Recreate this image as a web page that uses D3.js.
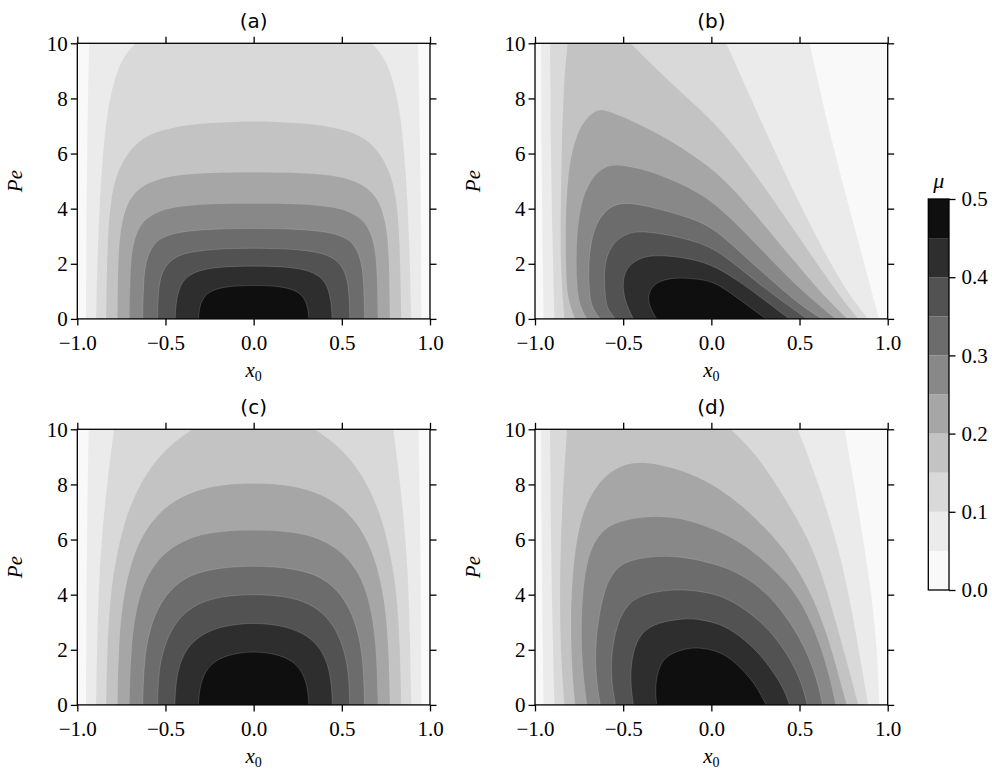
<!DOCTYPE html>
<html><head><meta charset="utf-8">
<script src="https://cdn.jsdelivr.net/npm/d3@7"></script>
<style>
body{margin:0;background:#fff}
.serif{font-family:"Liberation Serif","DejaVu Serif","Noto Serif","Times New Roman",serif}
.sans{font-family:"DejaVu Sans","Liberation Sans",sans-serif}
</style>
</head><body>
<svg id="fig" width="992" height="771"></svg>
<script>
// ---------- data ----------
const levels = [0, 0.05, 0.1, 0.15, 0.2, 0.25, 0.3, 0.35, 0.4, 0.45, 0.5];
const bandColors = ['#f9f9f9','#ebebeb','#d9d9d9','#c3c3c3','#a6a6a6','#888888','#6c6c6c','#525252','#2e2e2e','#0f0f0f'];
const xTicks = [-1, -0.5, 0, 0.5, 1];
const yTicks = [0, 2, 4, 6, 8, 10];
const cbTicks = [0, 0.1, 0.2, 0.3, 0.4, 0.5];
const panelTitles = ['(a)', '(b)', '(c)', '(d)'];

// contour boundaries [x0, Pe] for levels 0.05 ... 0.45 (each: list of branches)
const contourA = [
  [[[-0.951,0],[-0.949,3],[-0.944,6],[-0.938,8.5],[-0.932,10]], [[0.932,10],[0.938,8.5],[0.944,6],[0.949,3],[0.951,0]]],
  [[[-0.894,0],[-0.883,2.9],[-0.864,5.3],[-0.839,7.1],[-0.807,8.3],[-0.763,9.2],[-0.716,9.7],[-0.669,10]],
   [[0.669,10],[0.716,9.7],[0.763,9.2],[0.807,8.3],[0.839,7.1],[0.864,5.3],[0.883,2.9],[0.894,0]]],
  [[[-0.837,0],[-0.830,2.86],[-0.811,4.31],[-0.782,5.16],[-0.735,5.82],[-0.669,6.37],[-0.583,6.73],[-0.451,6.97],[-0.261,7.12],[0,7.18],
    [0.261,7.12],[0.451,6.97],[0.583,6.73],[0.669,6.37],[0.735,5.82],[0.782,5.16],[0.811,4.31],[0.830,2.86],[0.837,0]]],
  [[[-0.773,0],[-0.769,2.25],[-0.754,3.34],[-0.725,4.07],[-0.678,4.58],[-0.602,4.94],[-0.489,5.18],[-0.297,5.30],[0,5.33],
    [0.297,5.30],[0.489,5.18],[0.602,4.94],[0.678,4.58],[0.725,4.07],[0.754,3.34],[0.769,2.25],[0.773,0]]],
  [[[-0.705,0],[-0.701,1.65],[-0.688,2.62],[-0.659,3.22],[-0.612,3.64],[-0.527,3.95],[-0.413,4.10],[-0.222,4.18],[0,4.19],
    [0.222,4.18],[0.413,4.10],[0.527,3.95],[0.612,3.64],[0.659,3.22],[0.688,2.62],[0.701,1.65],[0.705,0]]],
  [[[-0.629,0],[-0.625,1.40],[-0.610,2.13],[-0.574,2.68],[-0.517,2.98],[-0.413,3.17],[-0.222,3.27],[0,3.28],
    [0.222,3.27],[0.413,3.17],[0.517,2.98],[0.574,2.68],[0.610,2.13],[0.625,1.40],[0.629,0]]],
  [[[-0.545,0],[-0.542,0.92],[-0.527,1.59],[-0.489,2.03],[-0.422,2.34],[-0.299,2.49],[-0.15,2.55],[0,2.57],
    [0.15,2.55],[0.299,2.49],[0.422,2.34],[0.489,2.03],[0.527,1.59],[0.542,0.92],[0.545,0]]],
  [[[-0.445,0],[-0.441,0.56],[-0.422,1.16],[-0.379,1.55],[-0.299,1.79],[-0.167,1.90],[0,1.92],
    [0.167,1.90],[0.299,1.79],[0.379,1.55],[0.422,1.16],[0.441,0.56],[0.445,0]]],
  [[[-0.313,0],[-0.307,0.44],[-0.284,0.80],[-0.239,1.04],[-0.148,1.19],[0,1.22],
    [0.148,1.19],[0.239,1.04],[0.284,0.80],[0.307,0.44],[0.313,0]]]
];

const contourB = [
  [[[-0.951,0],[-0.958,3],[-0.963,6],[-0.966,10]], [[0.557,10],[0.679,6.49],[0.811,3.34],[0.951,0]]],
  [[[-0.890,0],[-0.902,3],[-0.910,6],[-0.915,10]], [[0.085,10],[0.245,7.70],[0.434,5.04],[0.623,2.62],[0.774,0.92],[0.890,0]]],
  [[[-0.834,0],[-0.852,1.5],[-0.857,2.86],[-0.849,6.49],[-0.834,8.91],[-0.815,10]],
   [[-0.457,10],[-0.23,8.55],[-0.004,7.28],[0.151,6.13],[0.34,4.43],[0.528,2.68],[0.717,0.92],[0.834,0]]],
  [[[-0.773,0],[-0.815,0.7],[-0.825,1.65],[-0.828,3.46],[-0.815,5.28],[-0.777,6.49],[-0.721,7.22],[-0.655,7.58],[-0.610,7.61],
    [-0.457,7.22],[-0.23,6.49],[-0.004,5.52],[0.151,4.55],[0.34,3.10],[0.528,1.65],[0.679,0.56],[0.773,0]]],
  [[[-0.705,0],[-0.748,0.5],[-0.762,1.16],[-0.768,2.25],[-0.758,3.46],[-0.730,4.43],[-0.674,5.16],[-0.608,5.52],[-0.532,5.62],
    [-0.362,5.40],[-0.174,4.92],[-0.004,4.33],[0.151,3.40],[0.34,2.13],[0.528,0.92],[0.705,0]]],
  [[[-0.630,0],[-0.678,0.4],[-0.692,0.92],[-0.698,1.89],[-0.683,2.86],[-0.645,3.58],[-0.579,4.07],[-0.494,4.25],
    [-0.343,4.07],[-0.174,3.77],[-0.004,3.40],[0.151,2.49],[0.34,1.40],[0.528,0.38],[0.630,0]]],
  [[[-0.544,0],[-0.588,0.35],[-0.600,0.68],[-0.611,1.65],[-0.592,2.37],[-0.541,2.86],[-0.475,3.10],[-0.40,3.20],
    [-0.23,3.04],[-0.004,2.68],[0.151,1.89],[0.34,0.92],[0.544,0]]],
  [[[-0.442,0],[-0.485,0.56],[-0.504,1.16],[-0.494,1.65],[-0.457,2.01],[-0.39,2.25],[-0.306,2.31],
    [-0.174,2.25],[-0.004,2.01],[0.151,1.40],[0.302,0.68],[0.442,0]]],
  [[[-0.310,0],[-0.350,0.44],[-0.360,0.80],[-0.340,1.16],[-0.287,1.40],[-0.2,1.50],[-0.1,1.46],[-0.004,1.38],
    [0.075,1.10],[0.189,0.56],[0.310,0]]]
];

const contourC = [
  [[[-0.951,0],[-0.949,3],[-0.945,6],[-0.940,8.5],[-0.935,10]], [[0.935,10],[0.940,8.5],[0.945,6],[0.949,3],[0.951,0]]],
  [[[-0.894,0],[-0.886,2.87],[-0.873,5.05],[-0.852,6.74],[-0.826,8.31],[-0.792,10]],
   [[0.792,10],[0.826,8.31],[0.852,6.74],[0.873,5.05],[0.886,2.87],[0.894,0]]],
  [[[-0.837,0],[-0.830,2.27],[-0.811,4.08],[-0.782,5.29],[-0.735,6.62],[-0.669,7.71],[-0.583,8.67],[-0.470,9.46],[-0.347,10]],
   [[0.347,10],[0.470,9.46],[0.583,8.67],[0.669,7.71],[0.735,6.62],[0.782,5.29],[0.811,4.08],[0.830,2.27],[0.837,0]]],
  [[[-0.773,0],[-0.765,2.27],[-0.744,3.72],[-0.706,4.93],[-0.650,5.95],[-0.564,6.80],[-0.451,7.44],[-0.299,7.85],[-0.148,8.01],[0,8.04],
    [0.148,8.01],[0.299,7.85],[0.451,7.44],[0.564,6.80],[0.650,5.95],[0.706,4.93],[0.744,3.72],[0.765,2.27],[0.773,0]]],
  [[[-0.705,0],[-0.697,1.91],[-0.674,3.24],[-0.631,4.32],[-0.564,5.11],[-0.470,5.71],[-0.337,6.14],[-0.186,6.30],[0,6.35],
    [0.186,6.30],[0.337,6.14],[0.470,5.71],[0.564,5.11],[0.631,4.32],[0.674,3.24],[0.697,1.91],[0.705,0]]],
  [[[-0.629,0],[-0.623,1.43],[-0.602,2.39],[-0.564,3.24],[-0.498,4.02],[-0.394,4.63],[-0.242,4.95],[0,5.07],
    [0.242,4.95],[0.394,4.63],[0.498,4.02],[0.564,3.24],[0.602,2.39],[0.623,1.43],[0.629,0]]],
  [[[-0.545,0],[-0.540,1.06],[-0.521,1.79],[-0.485,2.51],[-0.422,3.18],[-0.318,3.70],[-0.176,3.95],[0,4.02],
    [0.176,3.95],[0.318,3.70],[0.422,3.18],[0.485,2.51],[0.521,1.79],[0.540,1.06],[0.545,0]]],
  [[[-0.447,0],[-0.441,0.82],[-0.420,1.49],[-0.379,2.05],[-0.309,2.51],[-0.186,2.86],[0,3.00],
    [0.186,2.86],[0.309,2.51],[0.379,2.05],[0.420,1.49],[0.441,0.82],[0.447,0]]],
  [[[-0.313,0],[-0.307,0.58],[-0.284,1.09],[-0.239,1.51],[-0.157,1.81],[0,1.97],
    [0.157,1.81],[0.239,1.51],[0.284,1.09],[0.307,0.58],[0.313,0]]]
];

const contourD = [
  [[[-0.951,0],[-0.958,3],[-0.963,6],[-0.966,10]],
   [[0.755,10],[0.81,8],[0.861,5.98],[0.899,4.41],[0.928,2.84],[0.945,1.39],[0.951,0]]],
  [[[-0.890,0],[-0.902,3],[-0.910,6],[-0.915,10]],
   [[0.49,10],[0.60,8.2],[0.709,5.98],[0.766,4.41],[0.814,2.84],[0.852,1.39],[0.890,0]]],
  [[[-0.834,0],[-0.852,1.5],[-0.862,4],[-0.850,7],[-0.819,10]],
   [[0.11,10],[0.25,9.15],[0.40,7.7],[0.557,5.98],[0.633,4.65],[0.709,2.96],[0.776,1.39],[0.834,0]]],
  [[[-0.773,0],[-0.795,1.5],[-0.800,4.08],[-0.758,6.5],[-0.683,7.7],[-0.570,8.55],[-0.419,8.89],[-0.211,8.61],[-0.038,8.19],
    [0.151,7.40],[0.376,5.98],[0.481,5.01],[0.576,3.93],[0.662,2.48],[0.719,1.15],[0.768,0]]],
  [[[-0.705,0],[-0.735,1.5],[-0.740,3.36],[-0.711,5.29],[-0.636,6.26],[-0.532,6.68],[-0.325,6.88],[-0.15,6.75],[-0.038,6.50],
    [0.08,6.20],[0.20,5.75],[0.30,5.22],[0.40,4.62],[0.50,3.86],[0.595,2.60],[0.662,1.27],[0.705,0]]],
  [[[-0.630,0],[-0.655,1.0],[-0.660,2.27],[-0.617,4.08],[-0.551,4.93],[-0.457,5.29],[-0.268,5.43],[-0.12,5.33],
    [0.044,5.07],[0.158,4.77],[0.272,4.29],[0.386,3.56],[0.50,2.48],[0.576,1.39],[0.614,0.54],[0.630,0]]],
  [[[-0.544,0],[-0.565,0.8],[-0.570,1.67],[-0.541,2.87],[-0.475,3.72],[-0.362,4.08],[-0.192,4.20],[-0.07,4.13],
    [0.044,3.99],[0.158,3.62],[0.272,3.08],[0.386,2.29],[0.471,1.39],[0.519,0.66],[0.544,0]]],
  [[[-0.442,0],[-0.462,0.94],[-0.447,1.91],[-0.400,2.63],[-0.306,3.0],[-0.136,3.15],[-0.07,3.10],
    [0.044,2.96],[0.158,2.54],[0.272,1.87],[0.357,1.15],[0.414,0.54],[0.443,0]]],
  [[[-0.310,0],[-0.320,0.70],[-0.296,1.43],[-0.249,1.79],[-0.174,2.0],[-0.098,2.08],[-0.038,2.05],
    [0.044,1.93],[0.12,1.63],[0.196,1.15],[0.258,0.66],[0.310,0]]]
];

// ---------- font detection (system fonts only) ----------
function pickFont(cands, fallback) {
  const c = document.createElement('canvas').getContext('2d');
  const test = 'Pe 0.1234567890 abcdefghijklm WMQ';
  for (const f of cands) {
    for (const base of ['monospace', 'sans-serif']) {
      c.font = `40px ${base}`; const w0 = c.measureText(test).width;
      c.font = `40px "${f}", ${base}`; const w1 = c.measureText(test).width;
      if (Math.abs(w1 - w0) > 0.5) return `"${f}", ${fallback}`;
    }
  }
  return fallback;
}
const serifFam = pickFont(['Liberation Serif', 'DejaVu Serif', 'Noto Serif', 'Times New Roman'], 'serif');

// ---------- layout ----------
const panels = [
  {title: panelTitles[0], data: contourA, left: 77.3, top: 43.3},
  {title: panelTitles[1], data: contourB, left: 535, top: 43.3},
  {title: panelTitles[2], data: contourC, left: 77.3, top: 429.3},
  {title: panelTitles[3], data: contourD, left: 535, top: 429.3}
];
const PW = 352.7, PH = 275.6;
const tickLen = 6.5;
const fs = 21;

const svg = d3.select('#fig');
svg.append('rect').attr('width', 992).attr('height', 771).attr('fill', '#fff');

panels.forEach((p, pi) => {
  const x = d3.scaleLinear().domain([-1, 1]).range([p.left, p.left + PW]);
  const y = d3.scaleLinear().domain([0, 10]).range([p.top + PH, p.top]);
  const g = svg.append('g');
  const cid = 'clip' + pi;
  svg.append('defs').append('clipPath').attr('id', cid)
    .append('rect').attr('x', p.left).attr('y', p.top).attr('width', PW).attr('height', PH);
  const plot = g.append('g').attr('clip-path', `url(#${cid})`);
  plot.append('rect').attr('x', p.left).attr('y', p.top).attr('width', PW).attr('height', PH)
    .attr('fill', bandColors[0]);
  const line = d3.line().x(d => x(d[0])).y(d => y(d[1])).curve(d3.curveBasis);
  p.data.forEach((branches, li) => {
    let path = '';
    branches.forEach((b, bi) => {
      let s = line(b);
      if (bi > 0) s = 'L' + s.slice(1);
      path += s;
    });
    path += 'Z';
    plot.append('path').attr('d', path).attr('fill', bandColors[li + 1]);
    plot.append('path').attr('d', path).attr('fill', 'none')
      .attr('stroke', '#ffffff').attr('stroke-opacity', li > 4 ? 0.22 : 0.1).attr('stroke-width', 0.7);
  });

  // axes
  const fmtX = d3.format('.1f');
  const ax = [
    {axis: d3.axisBottom(x).tickValues(xTicks).tickFormat(fmtX).tickSize(tickLen).tickPadding(10), t: `translate(0,${p.top + PH})`},
    {axis: d3.axisTop(x).tickValues(xTicks).tickFormat('').tickSize(tickLen), t: `translate(0,${p.top})`},
    {axis: d3.axisLeft(y).tickValues(yTicks).tickFormat(d3.format('d')).tickSize(tickLen).tickPadding(3), t: `translate(${p.left},0)`},
    {axis: d3.axisRight(y).tickValues(yTicks).tickFormat('').tickSize(tickLen), t: `translate(${p.left + PW},0)`}
  ];
  ax.forEach(a => {
    const ag = g.append('g').attr('transform', a.t).call(a.axis.tickSizeOuter(0));
    ag.attr('font-family', null).attr('font-size', null);
    ag.select('.domain').remove();
    ag.selectAll('line').attr('stroke', '#000').attr('stroke-width', 1.3);
    ag.selectAll('text').attr('class', 'serif').style('font-size', fs + 'px').attr('fill', '#000');
  });
  g.append('rect').attr('x', p.left).attr('y', p.top).attr('width', PW).attr('height', PH)
    .attr('fill', 'none').attr('stroke', '#000').attr('stroke-width', 1.3);

  // title
  g.append('text').attr('class', 'sans').attr('x', p.left + PW / 2).attr('y', p.top - 15)
    .attr('text-anchor', 'middle').style('font-size', '20px').text(p.title);
  // x label
  const xl = g.append('text').attr('class', 'serif').attr('x', p.left + PW / 2).attr('y', p.top + PH + 58)
    .attr('text-anchor', 'middle').style('font-size', fs + 'px');
  xl.append('tspan').style('font-style', 'italic').text('x');
  xl.append('tspan').style('font-size', '14px').attr('dy', 4).text('0');
  // y label
  g.append('text').attr('class', 'serif')
    .attr('transform', `translate(${p.left - 55},${p.top + PH / 2}) rotate(-90)`)
    .attr('text-anchor', 'middle').style('font-style', 'italic')
    .style('font-size', fs + 'px').text('Pe');
});

// ---------- colorbar ----------
const cbX = 928.3, cbW = 20.7;
const cy = d3.scaleLinear().domain([0, 0.5]).range([590, 199]);
const cb = svg.append('g');
d3.range(bandColors.length).forEach(i => {
  cb.append('rect').attr('x', cbX).attr('y', cy(levels[i + 1])).attr('width', cbW)
    .attr('height', cy(levels[i]) - cy(levels[i + 1])).attr('fill', bandColors[i]);
});
cb.append('rect').attr('x', cbX).attr('y', cy(0.5)).attr('width', cbW).attr('height', cy(0) - cy(0.5))
  .attr('fill', 'none').attr('stroke', '#000').attr('stroke-width', 1.3);
const cax = cb.append('g').attr('transform', `translate(${cbX + cbW},0)`)
  .call(d3.axisRight(cy).tickValues(cbTicks).tickFormat(d3.format('.1f')).tickSize(tickLen).tickPadding(6).tickSizeOuter(0));
cax.attr('font-family', null).attr('font-size', null);
cax.select('.domain').remove();
cax.selectAll('line').attr('stroke', '#000').attr('stroke-width', 1.3);
cax.selectAll('text').attr('class', 'serif').style('font-size', fs + 'px').attr('fill', '#000');
cb.append('text').attr('class', 'serif').attr('x', cbX + cbW / 2).attr('y', 188).attr('text-anchor', 'middle')
  .style('font-style', 'italic').style('font-size', '22px').text('μ');

d3.selectAll('.serif').style('font-family', serifFam);
</script>
</body></html>
